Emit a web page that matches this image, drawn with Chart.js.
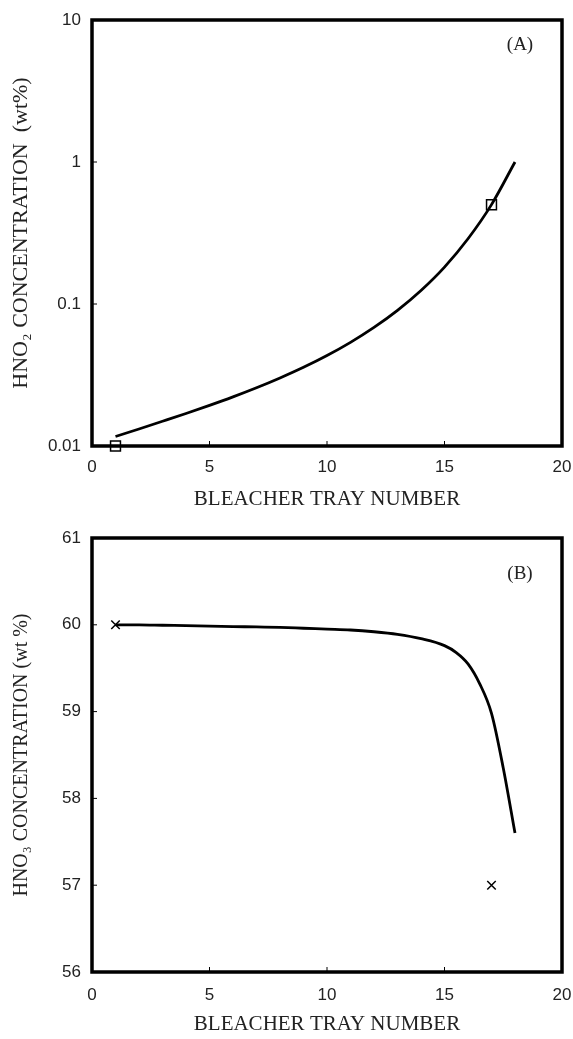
<!DOCTYPE html>
<html>
<head>
<meta charset="utf-8">
<script src="https://cdn.jsdelivr.net/npm/chart.js@4.4.1/dist/chart.umd.min.js"></script>
<style>
  body { margin: 0; background: #fff; }
  canvas { display: block; }
</style>
</head>
<body>
<canvas id="chartA" width="573" height="520"></canvas>
<canvas id="chartB" width="573" height="519"></canvas>
<script>
// data
var trayA = [1, 2, 3, 4, 5, 6, 7, 8, 9, 10, 11, 12, 13, 14, 15, 16, 17, 18];
var hno2Curve = [0.01167, 0.01318, 0.01493, 0.01694, 0.01932, 0.02218, 0.0257, 0.03013, 0.03581,
                 0.04335, 0.0537, 0.0684, 0.0902, 0.1245, 0.182, 0.288, 0.501, 1.0];
var hno2PtX = [1, 17];
var hno2PtY = [0.01, 0.5];

var trayB = [1, 2, 3, 4, 5, 6, 7, 8, 9, 10, 11, 12, 13, 14, 15, 15.5, 16, 16.5, 17, 17.5, 18];
var hno3Curve = [60.0, 60.0, 59.995, 59.99, 59.985, 59.98, 59.975, 59.97, 59.96, 59.95, 59.94,
                 59.92, 59.89, 59.84, 59.76, 59.68, 59.55, 59.32, 58.98, 58.35, 57.6];
var hno3PtX = [1, 17];
var hno3PtY = [60, 57];

var xTicks = [0, 5, 10, 15, 20];
var hno2Ticks = [0.01, 0.1, 1, 10];
var hno3Ticks = [56, 57, 58, 59, 60, 61];

function pts(xs, ys) {
    return xs.map(function (x, i) { return { x: x, y: ys[i] }; });
}

var serif = '"Liberation Serif", "Times New Roman", serif';
var tickFont = { family: '"Liberation Sans", Arial, sans-serif', size: 17 };

// thick box, inward tick marks and panel letter
var framePlugin = {
    id: 'frame',
    beforeDatasetsDraw: function (chart, args, opts) {
        var ctx = chart.ctx, a = chart.chartArea;
        var sx = chart.scales.x, sy = chart.scales.y;
        ctx.save();
        ctx.strokeStyle = '#000';
        ctx.lineWidth = 1;
        ctx.beginPath();
        sx.ticks.forEach(function (t) {
            var p = sx.getPixelForValue(t.value);
            ctx.moveTo(p, a.bottom);
            ctx.lineTo(p, a.bottom - 5);
        });
        sy.ticks.forEach(function (t) {
            var p = sy.getPixelForValue(t.value);
            ctx.moveTo(a.left, p);
            ctx.lineTo(a.left + 5, p);
        });
        ctx.stroke();
        ctx.lineWidth = 3.5;
        ctx.strokeRect(a.left, a.top, a.right - a.left, a.bottom - a.top);
        ctx.fillStyle = '#222';
        ctx.font = '19px ' + serif;
        ctx.textAlign = 'center';
        ctx.textBaseline = 'middle';
        ctx.fillText(opts.label, a.right - 42, a.top + opts.labelDy);
        ctx.restore();
    }
};

function makeChart(id, cfg) {
    var ctx = document.getElementById(id).getContext('2d');
    return new Chart(ctx, {
        type: 'scatter',
        data: {
            datasets: [{
                type: 'line',
                data: pts(cfg.curveX, cfg.curveY),
                borderColor: '#000',
                borderWidth: 2.8,
                pointRadius: 0,
                fill: false,
                cubicInterpolationMode: 'monotone'
            }, {
                data: pts(cfg.ptX, cfg.ptY),
                pointStyle: cfg.pointStyle,
                pointRadius: cfg.pointRadius,
                pointBorderColor: '#000',
                pointBackgroundColor: 'rgba(0,0,0,0)',
                pointBorderWidth: 1.5,
                clip: false
            }]
        },
        options: {
            responsive: false,
            animation: false,
            layout: { padding: { top: cfg.padTop, right: 11, left: 0, bottom: 0 } },
            plugins: {
                legend: { display: false },
                tooltip: { enabled: false },
                frame: { label: cfg.label, labelDy: cfg.labelDy }
            },
            scales: {
                x: {
                    type: 'linear',
                    min: 0,
                    max: 20,
                    afterBuildTicks: function (s) { s.ticks = xTicks.map(function (v) { return { value: v }; }); },
                    afterFit: function (s) {
                        s.height = cfg.xAxisH;
                        s.paddingLeft = 0;
                        s.paddingRight = 0;
                    },
                    grid: { display: false, drawTicks: false },
                    border: { display: false },
                    ticks: { color: '#222', font: tickFont, padding: cfg.xPad, maxRotation: 0 },
                    title: {
                        display: true,
                        text: 'BLEACHER TRAY NUMBER',
                        color: '#222',
                        font: { family: serif, size: 21 },
                        padding: { top: 0, bottom: cfg.xTitlePad }
                    }
                },
                y: {
                    type: cfg.yType,
                    min: cfg.yTicks[0],
                    max: cfg.yTicks[cfg.yTicks.length - 1],
                    afterBuildTicks: function (s) { s.ticks = cfg.yTicks.map(function (v) { return { value: v }; }); },
                    afterFit: function (s) {
                        s.width = 92;
                        s.paddingTop = 0;
                        s.paddingBottom = 0;
                    },
                    grid: { display: false, drawTicks: false },
                    border: { display: false },
                    ticks: {
                        color: '#222',
                        font: tickFont,
                        padding: 11,
                        callback: function (v) { return String(v); }
                    },
                    title: {
                        display: true,
                        text: cfg.yTitle,
                        color: '#222',
                        font: { family: serif, size: cfg.yTitleSize },
                        padding: { top: cfg.yTitlePad, bottom: 0 }
                    }
                }
            }
        },
        plugins: [framePlugin]
    });
}

makeChart('chartA', {
    curveX: trayA, curveY: hno2Curve,
    ptX: hno2PtX, ptY: hno2PtY,
    pointStyle: 'rect', pointRadius: 7,
    yType: 'logarithmic', yTicks: hno2Ticks,
    yTitle: 'HNO\u2082 CONCENTRATION  (wt%)', yTitleSize: 22, yTitlePad: 8,
    padTop: 20, xAxisH: 74, xPad: 11, xTitlePad: 8,
    label: '(A)', labelDy: 25
});

makeChart('chartB', {
    curveX: trayB, curveY: hno3Curve,
    ptX: hno3PtX, ptY: hno3PtY,
    pointStyle: 'crossRot', pointRadius: 6,
    yType: 'linear', yTicks: hno3Ticks,
    yTitle: 'HNO\u2083 CONCENTRATION (wt %)', yTitleSize: 20, yTitlePad: 10,
    padTop: 18, xAxisH: 67, xPad: 13, xTitlePad: 2,
    label: '(B)', labelDy: 36
});
</script>
</body>
</html>
